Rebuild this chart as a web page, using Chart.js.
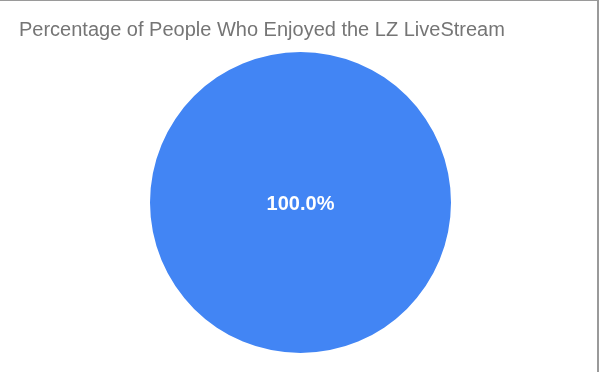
<!DOCTYPE html>
<html>
<head>
<meta charset="utf-8">
<script src="https://cdn.jsdelivr.net/npm/chart.js@4/dist/chart.umd.min.js"></script>
<style>
html,body{margin:0;padding:0;background:#fff;}
#wrap{position:relative;width:601px;height:372px;overflow:hidden;}
#frame{position:absolute;left:0;top:0;width:599px;height:372px;border-top:1px solid #9a9a9a;border-right:2px solid #9a9a9a;box-sizing:border-box;pointer-events:none;}
canvas{position:absolute;left:0;top:0;}
</style>
</head>
<body>
<div id="wrap">
<canvas id="c" width="601" height="372"></canvas>
<div id="frame"></div>
</div>
<script>
const titleText = "Percentage of People Who Enjoyed the LZ LiveStream";
const categories = ["Enjoyed"];
const values = [100];
const colors = ["#4285f4"];

const labelPlugin = {
  id: 'sliceLabels',
  afterDatasetsDraw(chart) {
    const ctx = chart.ctx;
    const meta = chart.getDatasetMeta(0);
    const data = chart.data.datasets[0].data;
    const total = data.reduce((a, b) => a + b, 0);
    meta.data.forEach((arc, i) => {
      const pct = (data[i] / total * 100).toFixed(1) + '%';
      let x, y;
      if (data[i] === total) { x = arc.x; y = arc.y; }
      else { const p = arc.tooltipPosition(); x = p.x; y = p.y; }
      ctx.save();
      ctx.fillStyle = '#ffffff';
      ctx.font = 'bold 20px "Liberation Sans", Arial, sans-serif';
      ctx.textAlign = 'center';
      ctx.textBaseline = 'alphabetic';
      ctx.fillText(pct, x, y + 7.5);
      ctx.restore();
    });
  }
};

const titlePlugin = {
  id: 'leftTitle',
  afterDraw(chart) {
    const ctx = chart.ctx;
    ctx.save();
    ctx.fillStyle = '#757575';
    ctx.font = '20px "Liberation Sans", Arial, sans-serif';
    ctx.textAlign = 'left';
    ctx.textBaseline = 'alphabetic';
    ctx.fillText(titleText, 19, 36);
    ctx.restore();
  }
};

new Chart(document.getElementById('c'), {
  type: 'pie',
  data: {
    labels: categories,
    datasets: [{ data: values, backgroundColor: colors, borderWidth: 0 }]
  },
  options: {
    responsive: false,
    animation: false,
    layout: { padding: { top: 52, bottom: 19, left: 0, right: 0 } },
    plugins: {
      legend: { display: false },
      tooltip: { enabled: false },
      title: { display: false }
    }
  },
  plugins: [labelPlugin, titlePlugin]
});
</script>
</body>
</html>
